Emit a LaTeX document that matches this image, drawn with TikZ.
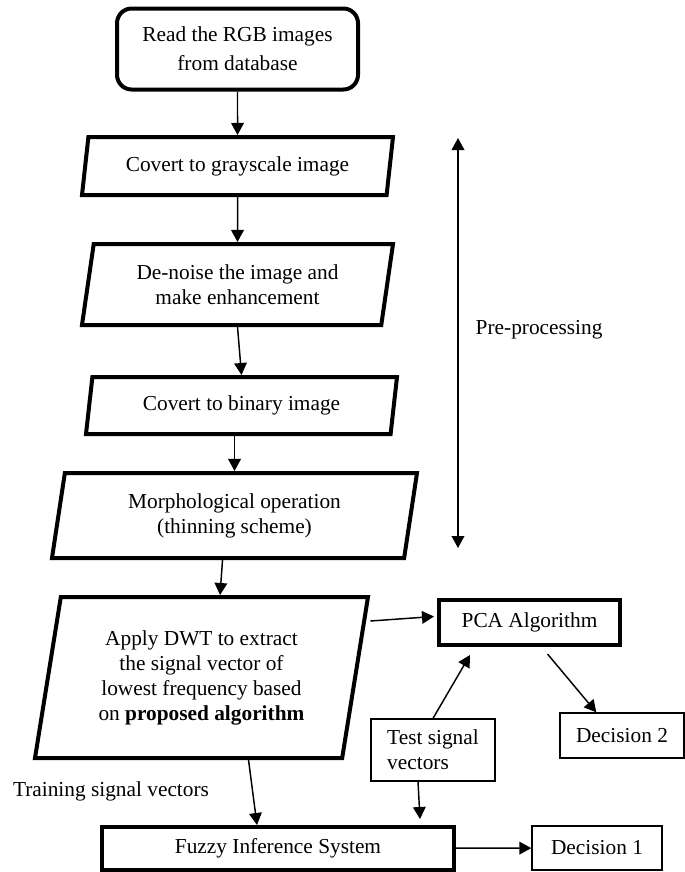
\documentclass[tikz,border=0pt]{standalone}
\usepackage{fontspec}
\setmainfont{Liberation Serif}
\usetikzlibrary{arrows.meta,calc,shapes.geometric}

\begin{document}
\begin{tikzpicture}[x=0.75pt,y=-0.75pt,
  every node/.style={font=\fontsize{16}{18.75}\selectfont},
  inout/.style={trapezium,trapezium left angle=75.5,trapezium right angle=104.5,
    trapezium stretches body,draw,line width=3pt,align=center,inner sep=2pt},
  thickbox/.style={rectangle,draw,line width=3pt,align=center},
  thinbox/.style={rectangle,draw,line width=1pt},
  conn/.style={-{Triangle[length=9pt,width=9.5pt]},line width=1.1pt},
  twoway/.style={{Triangle[length=9pt,width=9.5pt]}-{Triangle[length=9pt,width=9.5pt]},line width=1.1pt}]
\useasboundingbox (0,0) rectangle (685,872);

\node[thickbox,rounded corners=11pt,minimum width=180.75pt,minimum height=60.75pt,
  font=\fontsize{16}{22}\selectfont] (read) at (237.5,49) {Read the RGB images\\from database};
\node[inout,minimum width=233.25pt,minimum height=43.5pt] (gray) at (237.5,166) {Covert to grayscale image};
\node[inout,minimum width=233.25pt,minimum height=60.75pt] (denoise) at (237.5,284.5) {De-noise the image and\\make enhancement};
\node[inout,minimum width=233.25pt,minimum height=42.75pt] (binary) at (241.5,405.5) {Covert to binary image};
\node[inout,minimum width=273.75pt,minimum height=63.75pt] (morph) at (234.5,515.5) {Morphological operation\\(thinning scheme)};
\node[inout,minimum width=249.75pt,minimum height=120.75pt] (dwt) at (201.5,677.5)
  {Apply DWT to extract\\the signal vector of\\lowest frequency based\\on \textbf{proposed algorithm}};

\node[thickbox,minimum width=135.75pt,minimum height=33.75pt] (pca) at (529.5,622.5) {PCA Algorithm};
\node[thinbox,minimum width=93pt,minimum height=33.75pt] (dec2) at (622,735.5) {Decision 2};
\node[thinbox,minimum width=93pt,minimum height=46.5pt,align=left] (test) at (433,750) {Test signal\\vectors};
\node[thickbox,minimum width=264pt,minimum height=32.25pt] (fuzzy) at (278,848.5) {Fuzzy Inference System};
\node[thinbox,minimum width=97.5pt,minimum height=33pt] (dec1) at (597,848) {Decision 1};

% labels
\node[anchor=west] (pre) at (471,330) {Pre-processing};
\node (train) at (111,791) {Training signal vectors};

\coordinate (pretop) at (458,138);
\coordinate (prebot) at (458,548);
\draw[twoway] (pretop) -- (prebot);

% connectors
\draw[conn] (read) -- (gray);
\draw[conn] (gray) -- (denoise);
\draw[conn] (denoise.south) -- (binary.north);
\draw[conn] (morph.north |- binary.south) -- (morph.north);
\draw[conn] ($(morph.south)+(-12,0)$) -- ($(dwt.north)+(18.5,0)$);
\draw[conn] ($(dwt.top right corner)+(0,26)$) -- ($(pca.west)+(-3,-6)$);
\draw[conn] (test.north) -- ($(pca.south west)+(33,8)$);
\draw[conn] ($(pca.south)+(18,7)$) -- ($(dec2.north west)+(37,0)$);
\draw[conn] ($(dwt.south)+(47,0)$) -- ($(fuzzy.north)+(-21,0)$);
\draw[conn] ($(test.south)+(-15,0)$) -- ($(fuzzy.north east)+(-36,-6)$);
\draw[conn] (fuzzy) -- (dec1);
\end{tikzpicture}
\end{document}
